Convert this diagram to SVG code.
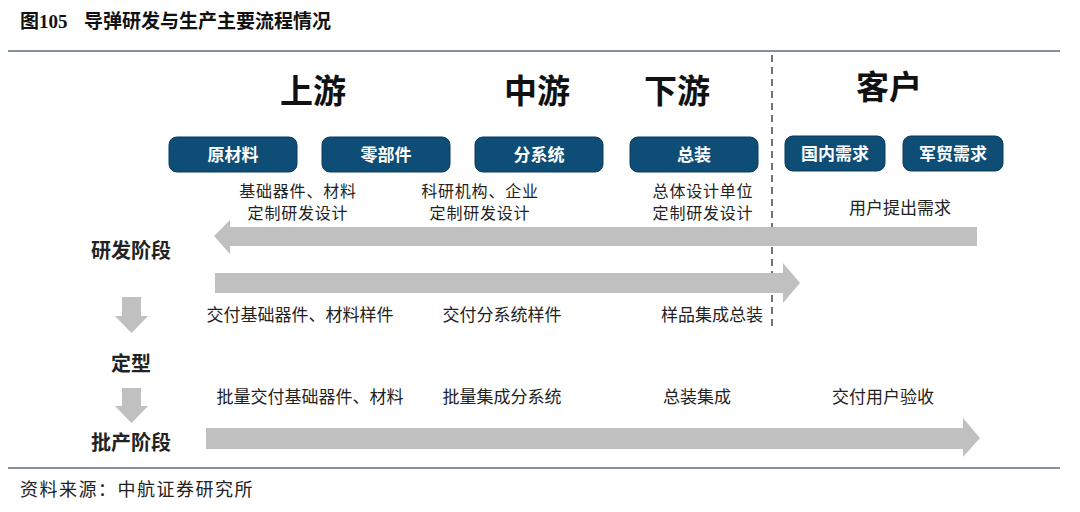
<svg xmlns="http://www.w3.org/2000/svg" width="1080" height="512" viewBox="0 0 1080 512">
<style>
.t{font-family:"Liberation Serif","Noto Sans CJK SC",serif;fill:#111}
.c{font-family:"Noto Sans CJK SC",sans-serif;fill:#222}
.h{font-family:"Noto Sans CJK SC",sans-serif;font-weight:bold;font-size:33px;fill:#111;text-anchor:middle}
.b{fill:#0e4d75;stroke:#0a3a5a;stroke-width:1}
.bt{font-family:"Noto Sans CJK SC",sans-serif;font-weight:bold;font-size:17px;fill:#fff;text-anchor:middle}
.d{font-family:"Noto Sans CJK SC",sans-serif;font-size:17px;fill:#222;text-anchor:middle}
.d2{font-family:"Noto Sans CJK SC",sans-serif;font-size:16px;fill:#222;text-anchor:middle;letter-spacing:0.8px}
.s{font-family:"Noto Sans CJK SC",sans-serif;font-weight:bold;font-size:20px;fill:#222;text-anchor:middle}
.a{fill:#c0c0c0}
.r{stroke:#5b6e7b;stroke-width:1.5}
</style>
<rect width="1080" height="512" fill="#fff"/>
<text class="t" x="20" y="28" font-size="19" font-weight="bold">图105<tspan font-family="Noto Sans CJK SC, sans-serif" x="84">导弹研发与生产主要流程情况</tspan></text>
<line class="r" x1="8" y1="51" x2="1060" y2="51"/>
<line class="r" x1="8" y1="468" x2="1060" y2="468"/>
<text class="c" x="20" y="496" font-size="18" letter-spacing="1.5">资料来源：中航证券研究所</text>

<text class="h" x="313" y="103">上游</text>
<text class="h" x="537" y="103">中游</text>
<text class="h" x="677" y="103">下游</text>
<text class="h" x="889" y="99">客户</text>

<line x1="772" y1="55" x2="772" y2="330" stroke="#444" stroke-width="1.5" stroke-dasharray="7,5"/>

<g id="n-raw"><rect class="b" x="169" y="137" width="128" height="35" rx="8"/><text class="bt" x="233" y="161">原材料</text></g>
<g id="n-part"><rect class="b" x="322" y="137" width="128" height="35" rx="8"/><text class="bt" x="386" y="161">零部件</text></g>
<g id="n-sub"><rect class="b" x="475" y="137" width="128" height="35" rx="8"/><text class="bt" x="539" y="161">分系统</text></g>
<g id="n-final"><rect class="b" x="630" y="137" width="128" height="35" rx="8"/><text class="bt" x="694" y="161">总装</text></g>
<g id="n-dom"><rect class="b" x="785" y="136" width="100" height="35" rx="8"/><text class="bt" x="835" y="160">国内需求</text></g>
<g id="n-mil"><rect class="b" x="903" y="136" width="100" height="35" rx="8"/><text class="bt" x="953" y="160">军贸需求</text></g>

<g id="connectors">
<polygon class="a" points="977,227 230,227 230,220 214,236 230,254 230,246 977,246"/>
<polygon class="a" points="215,273 783,273 783,263 800,283 783,303 783,293 215,293"/>
<polygon class="a" points="206,428 963,428 963,418 980,438 963,457 963,449 206,449"/>
<polygon class="a" points="122,297 141,297 141,316 148,316 131.5,333 115,316 122,316"/>
<polygon class="a" points="122,388 141,388 141,406 148,406 131.5,423 115,406 122,406"/>
</g>

<text class="d2" x="298" y="197">基础器件、材料</text>
<text class="d2" x="298" y="219">定制研发设计</text>
<text class="d2" x="480" y="197">科研机构、企业</text>
<text class="d2" x="480" y="219">定制研发设计</text>
<text class="d2" x="703" y="197">总体设计单位</text>
<text class="d2" x="703" y="219">定制研发设计</text>
<text class="d" x="900" y="214">用户提出需求</text>

<text class="s" x="131" y="258">研发阶段</text>
<text class="s" x="131" y="371">定型</text>
<text class="s" x="131" y="450">批产阶段</text>

<text class="d" x="300" y="321">交付基础器件、材料样件</text>
<text class="d" x="502" y="321">交付分系统样件</text>
<text class="d" x="712" y="321">样品集成总装</text>

<text class="d" x="310" y="403">批量交付基础器件、材料</text>
<text class="d" x="502" y="403">批量集成分系统</text>
<text class="d" x="697" y="403">总装集成</text>
<text class="d" x="883" y="403">交付用户验收</text>
</svg>
